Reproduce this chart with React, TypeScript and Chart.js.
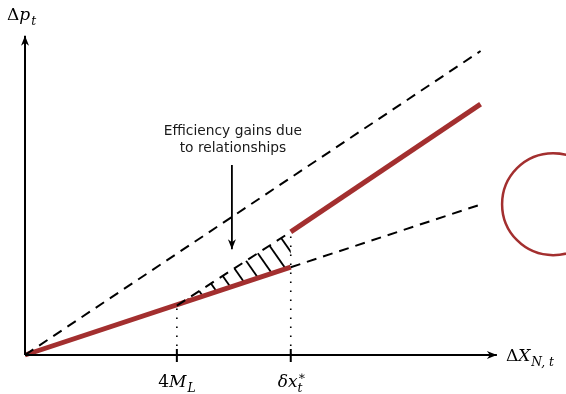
import React, { useEffect, useRef } from 'react';
import { Chart, registerables } from 'chart.js';
Chart.register(...registerables);

// ---- data (abstract units) ----
const xAxisLine = [{ x: 0, y: 0 }, { x: 12.43, y: 0 }];
const yAxisLine = [{ x: 0, y: 0 }, { x: 0, y: 8.4 }];
const upperDashed = [{ x: 0, y: 0 }, { x: 12, y: 8.0 }];
const lowerRed = [{ x: 0, y: 0 }, { x: 7, y: 2.31 }];
const lowerDashed = [{ x: 7, y: 2.31 }, { x: 12, y: 3.96 }];
const upperRed = [{ x: 7, y: 3.24 }, { x: 12, y: 6.6 }];
const hatchEdge = [{ x: 4, y: 1.3 }, { x: 7, y: 3.24 }];
const hatchTriangle = [{ x: 4, y: 1.3 }, { x: 7, y: 3.24 }, { x: 7, y: 2.31 }];
const dottedML = [{ x: 4, y: 0 }, { x: 4, y: 1.3 }];
const dottedDelta = [{ x: 7, y: 0 }, { x: 7, y: 3.24 }];
const tickPositions = [4, 7];
const annotationArrow = [{ x: 5.45, y: 5.0 }, { x: 5.45, y: 2.78 }];
const annotationText = ['Efficiency gains due', 'to relationships'];
const bubble = [{ x: 13.91, y: 3.97 }];

const RED = '#a32f2f';
const BLACK = '#000';

type Run = { t: string; it?: boolean; sub?: boolean; sup?: boolean };
const lblY: Run[] = [{ t: 'Δ' }, { t: 'p', it: true }, { t: 't', it: true, sub: true }];
const lblX: Run[] = [{ t: 'Δ' }, { t: 'X', it: true }, { t: 'N, t', it: true, sub: true }];
const lblML: Run[] = [{ t: '4' }, { t: 'M', it: true }, { t: 'L', it: true, sub: true }];
const lblDx: Run[] = [{ t: 'δ', it: true }, { t: 'x', it: true }, { t: '∗', sup: true }, { t: 't', it: true, sub: true }];

const MATH = '"DejaVu Serif", "Liberation Serif", serif';

function runsWidth(ctx: CanvasRenderingContext2D, runs: Run[], size: number) {
  let w = 0;
  let lastSubW = 0;
  for (const r of runs) {
    const s = r.sub || r.sup ? size * 0.72 : size;
    ctx.font = `${r.it ? 'italic ' : ''}${s}px ${MATH}`;
    const rw = ctx.measureText(r.t).width + (r.sub ? 1 : 0);
    if (r.sup) { lastSubW = rw; continue; }
    if (r.sub && lastSubW) { w += Math.max(rw, lastSubW); lastSubW = 0; continue; }
    w += rw;
  }
  return w;
}

function drawRuns(ctx: CanvasRenderingContext2D, runs: Run[], x: number, baseline: number, size: number) {
  let cx = x;
  let supStart = -1;
  for (const r of runs) {
    const s = r.sub || r.sup ? size * 0.72 : size;
    ctx.font = `${r.it ? 'italic ' : ''}${s}px ${MATH}`;
    ctx.textBaseline = 'alphabetic';
    ctx.textAlign = 'left';
    let y = baseline;
    if (r.sub) y = baseline + size * 0.3;
    if (r.sup) y = baseline - size * 0.42;
    if (r.sub && supStart >= 0) {
      ctx.fillText(r.t, supStart, y);
      cx = Math.max(cx, supStart + ctx.measureText(r.t).width);
      supStart = -1;
      continue;
    }
    const off = r.sub ? 1 : 0;
    ctx.fillText(r.t, cx + off, y);
    if (r.sup) { supStart = cx; cx += ctx.measureText(r.t).width; continue; }
    cx += ctx.measureText(r.t).width + off;
  }
}

function arrowHead(ctx: CanvasRenderingContext2D, tx: number, ty: number, dx: number, dy: number, len = 10, half = 4) {
  const n = Math.hypot(dx, dy);
  const ux = dx / n, uy = dy / n;
  const px = -uy, py = ux;
  const bx = tx - ux * len, by = ty - uy * len;
  ctx.beginPath();
  ctx.moveTo(tx, ty);
  ctx.lineTo(bx + px * half, by + py * half);
  ctx.lineTo(tx - ux * len * 0.7, ty - uy * len * 0.7);
  ctx.lineTo(bx - px * half, by - py * half);
  ctx.closePath();
  ctx.fillStyle = BLACK;
  ctx.fill();
}

const diagramPlugin = {
  id: 'diagram',
  beforeDatasetsDraw(chart: any) {
    const { ctx, scales } = chart;
    const xs = scales.x, ys = scales.y;
    const pts = hatchTriangle.map((p) => [xs.getPixelForValue(p.x), ys.getPixelForValue(p.y)]);
    ctx.save();
    ctx.beginPath();
    ctx.moveTo(pts[0][0], pts[0][1]);
    ctx.lineTo(pts[1][0], pts[1][1]);
    ctx.lineTo(pts[2][0], pts[2][1]);
    ctx.closePath();
    ctx.clip();
    ctx.strokeStyle = BLACK;
    ctx.lineWidth = 1.8;
    const minX = Math.min(...pts.map((p) => p[0])) - 100;
    const maxX = Math.max(...pts.map((p) => p[0])) + 100;
    const minY = Math.min(...pts.map((p) => p[1]));
    const maxY = Math.max(...pts.map((p) => p[1]));
    for (let x0 = minX + 6; x0 < maxX; x0 += 17) {
      ctx.beginPath();
      ctx.moveTo(x0, minY - 10);
      ctx.lineTo(x0 + (maxY - minY + 20) * 0.7, maxY + 10);
      ctx.stroke();
    }
    ctx.restore();
  },
  afterDatasetsDraw(chart: any) {
    const { ctx, scales } = chart;
    const xs = scales.x, ys = scales.y;
    const X = (v: number) => xs.getPixelForValue(v);
    const Y = (v: number) => ys.getPixelForValue(v);
    ctx.save();
    arrowHead(ctx, X(xAxisLine[1].x), Y(xAxisLine[1].y), 1, 0);
    arrowHead(ctx, X(yAxisLine[1].x), Y(yAxisLine[1].y), 0, -1);
    arrowHead(ctx, X(annotationArrow[1].x), Y(annotationArrow[1].y), 0, 1, 10, 4);
    ctx.strokeStyle = BLACK;
    ctx.lineWidth = 2;
    for (const t of tickPositions) {
      ctx.beginPath();
      ctx.moveTo(X(t), Y(0) - 6);
      ctx.lineTo(X(t), Y(0) + 7);
      ctx.stroke();
    }
    ctx.fillStyle = '#1a1a1a';
    ctx.font = '13.8px "DejaVu Sans", sans-serif';
    ctx.textAlign = 'center';
    ctx.textBaseline = 'middle';
    ctx.fillText(annotationText[0], X(annotationArrow[0].x) + 1, Y(annotationArrow[0].y) - 34);
    ctx.fillText(annotationText[1], X(annotationArrow[0].x) + 1, Y(annotationArrow[0].y) - 17);
    ctx.fillStyle = BLACK;
    const size = 17;
    drawRuns(ctx, lblY, X(0) - 18, Y(yAxisLine[1].y) - 16, size);
    drawRuns(ctx, lblX, X(xAxisLine[1].x) + 9, Y(0) + 6, size);
    const wML = runsWidth(ctx, lblML, size);
    drawRuns(ctx, lblML, X(tickPositions[0]) - wML / 2, Y(0) + 32, size);
    const wDx = runsWidth(ctx, lblDx, size);
    drawRuns(ctx, lblDx, X(tickPositions[1]) - wDx / 2 + 1, Y(0) + 32, size);
    ctx.restore();
  },
};

function line(data: any[], color: string, width: number, dash: number[] = [], cap: CanvasLineCap = 'butt') {
  return {
    data,
    borderColor: color,
    borderWidth: width,
    borderDash: dash,
    borderCapStyle: cap,
    pointRadius: 0,
    fill: false,
    tension: 0,
    clip: false as any,
  };
}

export default function App() {
  const ref = useRef<HTMLCanvasElement>(null);
  useEffect(() => {
    if (!ref.current) return;
    const chart = new Chart(ref.current, {
      type: 'line',
      data: {
        datasets: [
          line(dottedML, BLACK, 1.6, [1.6, 7.4]),
          line(dottedDelta, BLACK, 1.6, [1.6, 7.4]),
          line(upperDashed, BLACK, 2, [10, 7]),
          line(lowerDashed, BLACK, 2, [10, 7]),
          line(hatchEdge, BLACK, 2, [10, 7]),
          line(xAxisLine, BLACK, 2),
          line(yAxisLine, BLACK, 2),
          line(annotationArrow, BLACK, 1.8),
          line(lowerRed, RED, 5),
          line(upperRed, RED, 5),
          {
            data: bubble,
            showLine: false,
            pointRadius: 51,
            pointBorderWidth: 2.5,
            pointBorderColor: RED,
            pointBackgroundColor: 'rgba(0,0,0,0)',
            clip: false as any,
          },
        ] as any,
      },
      options: {
        responsive: false,
        animation: false,
        devicePixelRatio: 1,
        layout: { autoPadding: false, padding: { left: 25, right: 0, top: 0, bottom: 39 } } as any,
        scales: {
          x: { type: 'linear', min: 0, max: 14.25, display: false },
          y: { type: 'linear', min: 0, max: 9.342, display: false },
        },
        plugins: { legend: { display: false }, tooltip: { enabled: false } },
        events: [],
      },
      plugins: [diagramPlugin],
    });
    return () => chart.destroy();
  }, []);
  return (
    <canvas
      ref={ref}
      width={566}
      height={394}
      style={{ position: 'fixed', left: 0, top: 0, width: 566, height: 394, background: '#fff' }}
    />
  );
}
